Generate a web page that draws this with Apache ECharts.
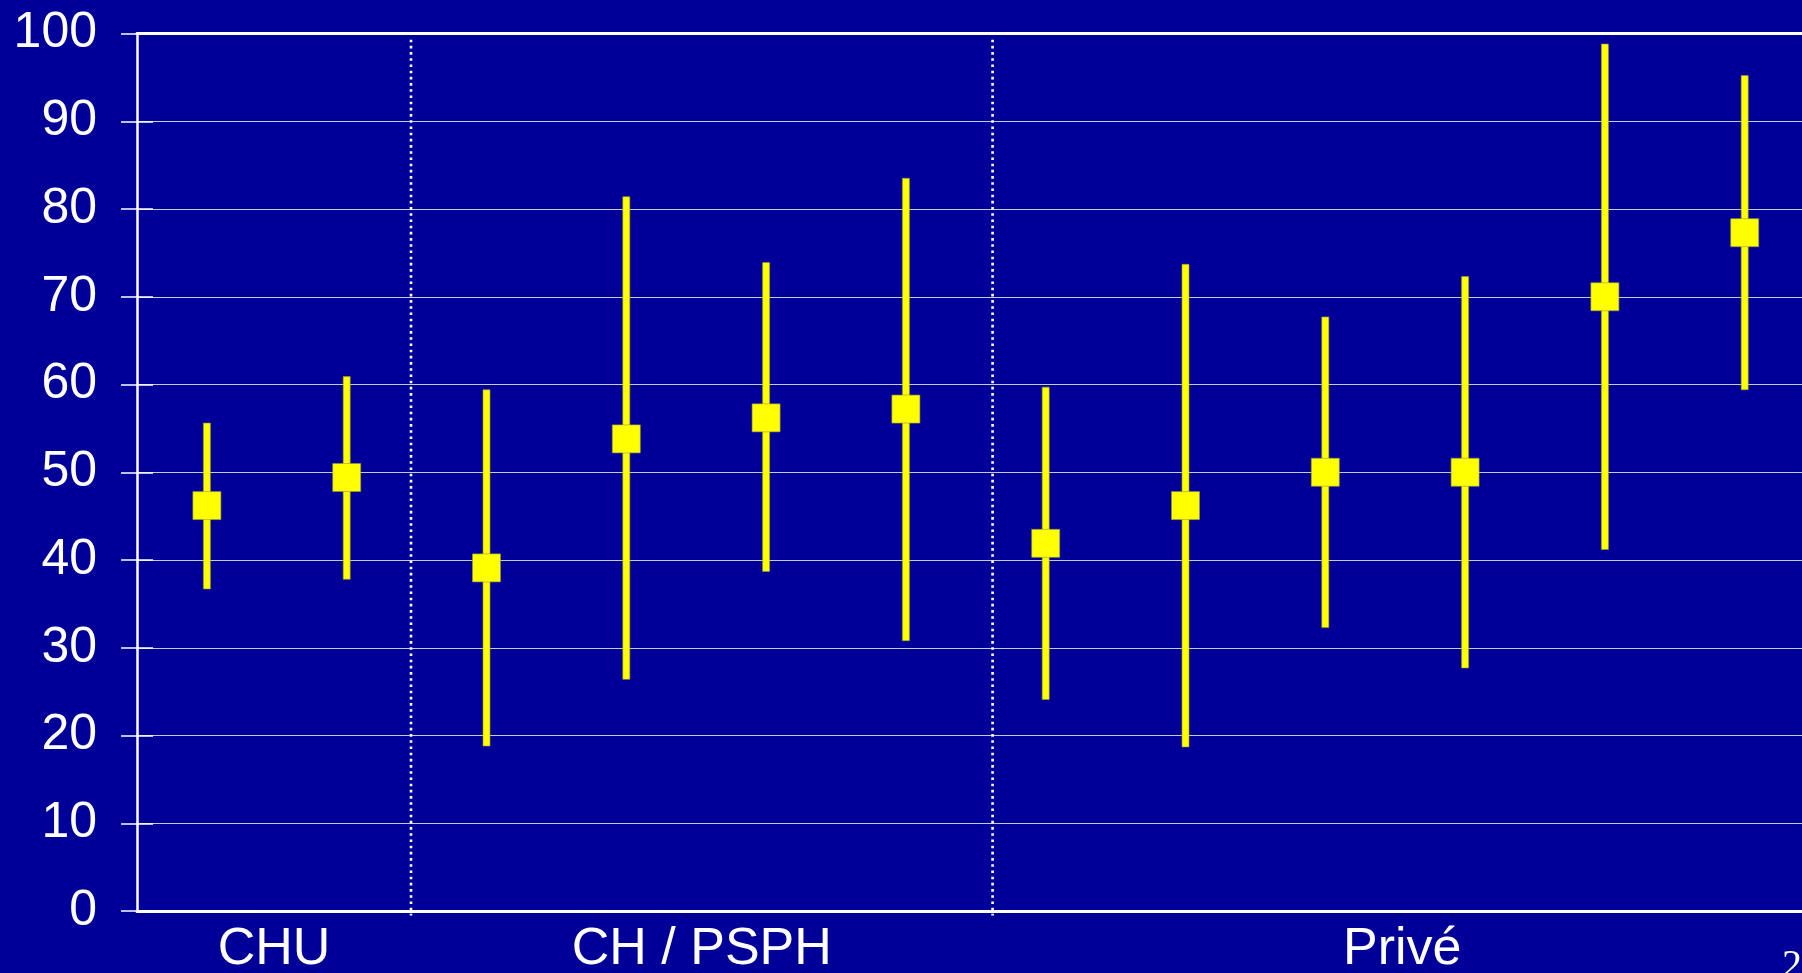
<!DOCTYPE html>
<html>
<head>
<meta charset="utf-8">
<style>
html,body{margin:0;padding:0;background:#000099;overflow:hidden;}
#chart{width:1802px;height:973px;}
</style>
<script src="https://cdn.jsdelivr.net/npm/echarts@6/dist/echarts.min.js"></script>
</head>
<body>
<div id="chart"></div>
<script>
// Data
const categories = ['1','2','3','4','5','6','7','8','9','10','11','12'];
const lowValues    = [36.7, 37.8, 18.8, 26.4, 38.7, 30.8, 24.1, 18.7, 32.3, 27.7, 41.2, 59.4];
const centerValues = [46.2, 49.4, 39.1, 53.8, 56.2, 57.2, 41.9, 46.2, 50.0, 50.0, 70.0, 77.3];
const highValues   = [55.6, 60.9, 59.4, 81.4, 73.9, 83.5, 59.7, 73.7, 67.7, 72.3, 98.8, 95.2];
const groupNames = ['CHU', 'CH / PSPH', 'Privé'];
const groupCenters = [0.98, 4.04, 9.05];
const separators = [1.96, 6.12];
const yTicks = { min: 0, max: 100, interval: 10 };
const pageNumber = '2';

const seriesData = categories.map((c, i) => [i, lowValues[i], centerValues[i], highValues[i]]);

const chart = echarts.init(document.getElementById('chart'));
const FONT = "'Liberation Sans', Arial, sans-serif";
const YEL = '#ffff00';

chart.setOption({
  backgroundColor: '#000099',
  animation: false,
  grid: { left: 137, top: 33.5, height: 877.5, width: 1677.6, containLabel: false, outerBoundsMode: 'none' },
  xAxis: [
    { type: 'category', data: categories, position: 'bottom', boundaryGap: true,
      axisLine: { show: true, onZero: false, lineStyle: { color: '#ffffff', width: 3 } },
      axisTick: { show: false }, axisLabel: { show: false }, splitLine: { show: false } },
    { type: 'value', min: 0, max: 12, position: 'top',
      axisLine: { show: true, onZero: false, lineStyle: { color: '#ffffff', width: 3 } },
      axisTick: { show: false }, axisLabel: { show: false }, splitLine: { show: false } }
  ],
  yAxis: [
    { type: 'value', min: yTicks.min, max: yTicks.max, interval: yTicks.interval, position: 'left',
      axisLine: { show: true, onZero: false, lineStyle: { color: '#ffffff', width: 2.5 } },
      axisTick: { show: true, length: 16, lineStyle: { color: '#ffffff', width: 1.5 } },
      axisLabel: { color: '#ffffff', fontSize: 50, fontFamily: FONT, margin: 40 },
      splitLine: { show: true, lineStyle: { color: 'rgba(235,235,245,0.85)', width: 1.2 } } },
    { type: 'value', min: yTicks.min, max: yTicks.max, interval: yTicks.interval, position: 'left', offset: 0,
      axisLine: { show: false, onZero: false },
      axisTick: { show: true, inside: true, length: 16, lineStyle: { color: '#ffffff', width: 1.5 } },
      axisLabel: { show: false }, splitLine: { show: false } }
  ],
  series: [
    {
      type: 'custom', xAxisIndex: 1, yAxisIndex: 0,
      data: separators.map(s => [s]),
      renderItem: function (params, api) {
        const x = api.value(0);
        const p1 = api.coord([x, 99.3]);
        const p2 = api.coord([x, -0.5]);
        return { type: 'line', shape: { x1: p1[0], y1: p1[1], x2: p2[0], y2: p2[1] },
          style: { stroke: '#ffffff', lineWidth: 2.6, lineDash: [2.6, 3.6] } };
      }
    },
    {
      type: 'custom', xAxisIndex: 0, yAxisIndex: 0,
      data: seriesData,
      renderItem: function (params, api) {
        const i = api.value(0);
        const lo = api.coord([i, api.value(1)]);
        const mid = api.coord([i, api.value(2)]);
        const hi = api.coord([i, api.value(3)]);
        const bw = 7, sq = 28;
        return { type: 'group', children: [
          { type: 'rect', shape: { x: lo[0] - bw / 2, y: hi[1], width: bw, height: lo[1] - hi[1] },
            style: { fill: YEL, stroke: '#9a9a30', lineWidth: 0.6 } },
          { type: 'rect', shape: { x: mid[0] - sq / 2, y: mid[1] - sq / 2, width: sq, height: sq },
            style: { fill: YEL, stroke: '#9a9a30', lineWidth: 0.6 } }
        ] };
      }
    }
  ]
});

// Group labels positioned through the value x-axis scale
const axisBottomY = chart.convertToPixel({ yAxisIndex: 0 }, 0);
const graphics = groupNames.map((name, k) => ({
  type: 'text',
  x: chart.convertToPixel({ xAxisIndex: 1 }, groupCenters[k]),
  y: axisBottomY + 39,
  style: { text: name, fill: '#ffffff', font: "52px 'Liberation Sans', Arial, sans-serif",
           align: 'center', verticalAlign: 'middle' }
}));
graphics.push({ type: 'text', left: 1782, top: 946,
  style: { text: pageNumber, fill: '#ffffff', font: "40px 'Liberation Serif', 'DejaVu Serif', serif" } });
chart.setOption({ graphic: graphics });
</script>
</body>
</html>
